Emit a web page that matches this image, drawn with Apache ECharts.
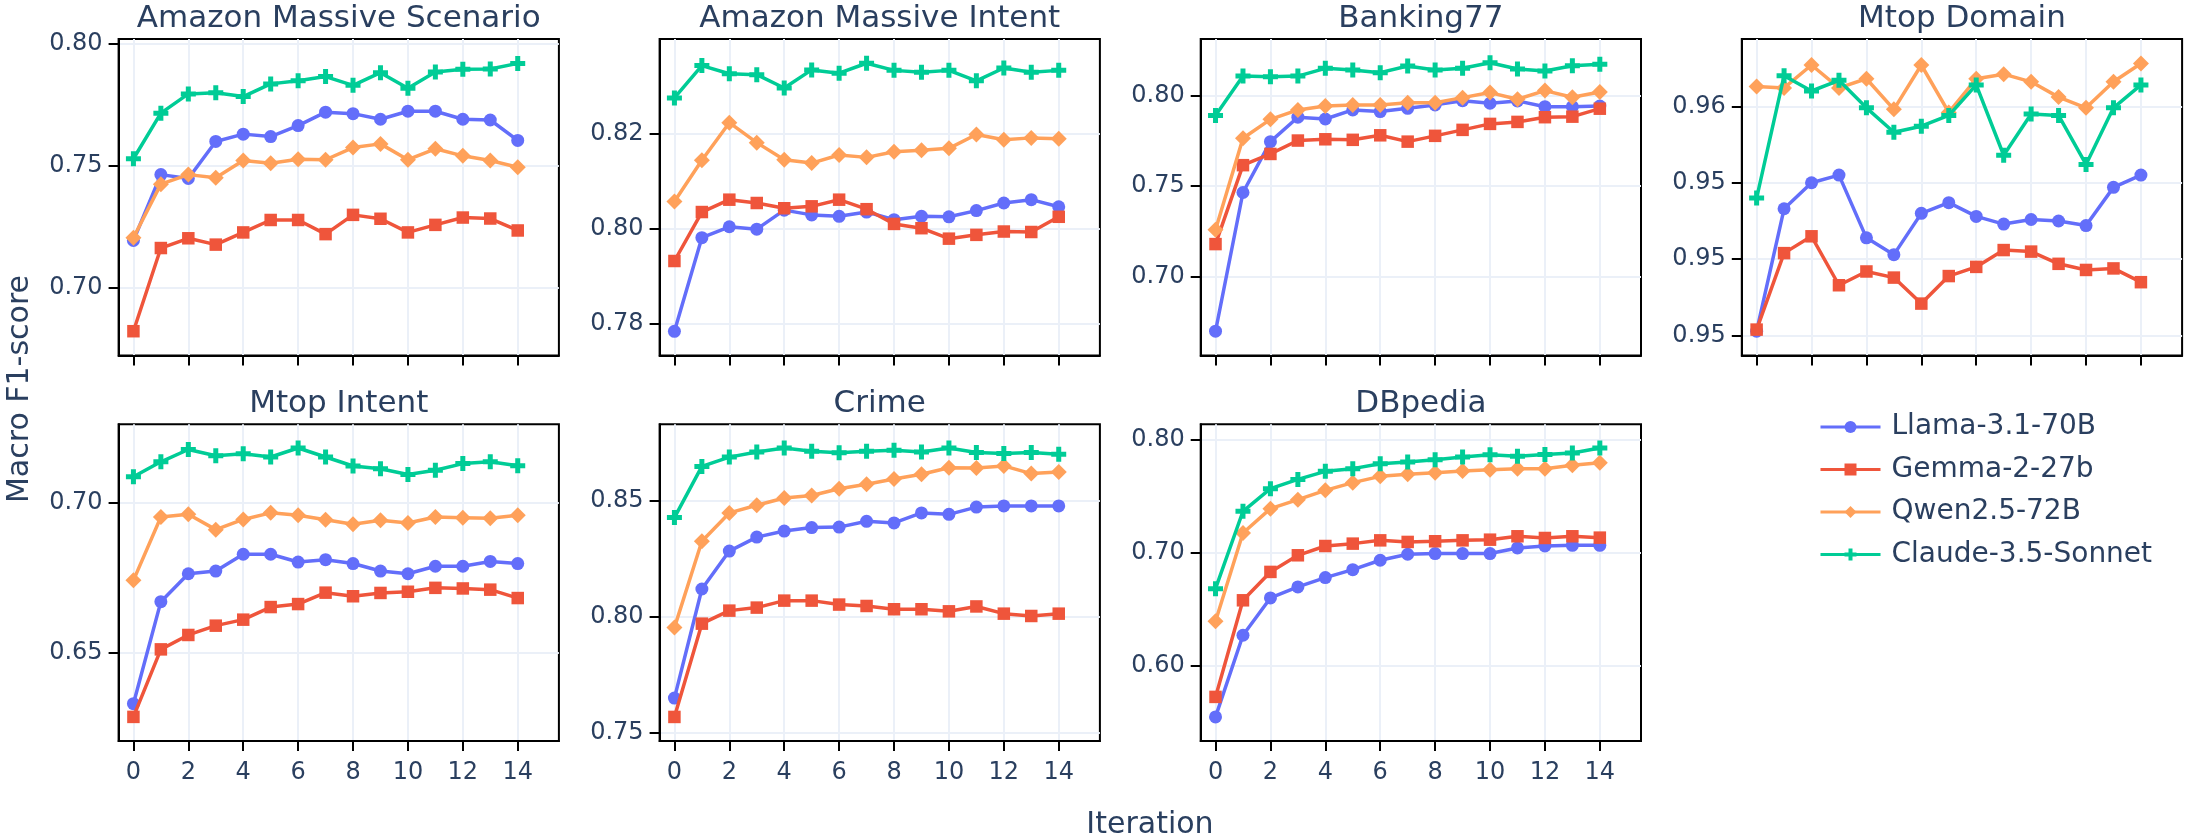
<!DOCTYPE html>
<html>
<head>
<meta charset="utf-8">
<script src="https://cdn.jsdelivr.net/npm/echarts@6/dist/echarts.min.js"></script>
<style>html,body{margin:0;padding:0;background:#fff}#c{width:2200px;height:840px}</style>
</head>
<body>
<div id="c"></div>
<script>
// ---------- data ----------
const models = ['Llama-3.1-70B', 'Gemma-2-27b', 'Qwen2.5-72B', 'Claude-3.5-Sonnet'];
const iterations = [0,1,2,3,4,5,6,7,8,9,10,11,12,13,14];
const datasetTitles = ['Amazon Massive Scenario','Amazon Massive Intent','Banking77','Mtop Domain','Mtop Intent','Crime','DBpedia'];
const xTicks = [0,2,4,6,8,10,12,14];

const amsLlama  = [0.7192,0.7462,0.7446,0.7598,0.7628,0.7618,0.7663,0.7718,0.7712,0.7689,0.7722,0.7722,0.7689,0.7686,0.7602];
const amsGemma  = [0.6820,0.7161,0.7201,0.7175,0.7225,0.7276,0.7276,0.7218,0.7297,0.7281,0.7225,0.7256,0.7286,0.7282,0.7233];
const amsQwen   = [0.7203,0.7423,0.7462,0.7449,0.7520,0.7509,0.7525,0.7523,0.7573,0.7588,0.7523,0.7568,0.7539,0.7520,0.7492];
const amsClaude = [0.7527,0.7714,0.7793,0.7798,0.7782,0.7834,0.7847,0.7864,0.7828,0.7880,0.7816,0.7883,0.7894,0.7895,0.7918];

const amiLlama  = [0.7784,0.7981,0.8004,0.7999,0.8039,0.8029,0.8026,0.8035,0.8019,0.8026,0.8025,0.8038,0.8054,0.8061,0.8046];
const amiGemma  = [0.7932,0.8035,0.8061,0.8054,0.8043,0.8047,0.8061,0.8041,0.8010,0.8001,0.7979,0.7987,0.7994,0.7993,0.8025];
const amiQwen   = [0.8057,0.8144,0.8223,0.8181,0.8145,0.8138,0.8155,0.8150,0.8162,0.8165,0.8169,0.8198,0.8187,0.8191,0.8189];
const amiClaude = [0.8275,0.8343,0.8326,0.8324,0.8296,0.8334,0.8327,0.8348,0.8333,0.8329,0.8333,0.8311,0.8338,0.8329,0.8333];

const bankLlama  = [0.6699,0.7465,0.7746,0.7881,0.7871,0.7921,0.7912,0.7930,0.7949,0.7972,0.7958,0.7971,0.7939,0.7939,0.7943];
const bankGemma  = [0.7180,0.7616,0.7678,0.7752,0.7759,0.7756,0.7781,0.7746,0.7778,0.7811,0.7844,0.7855,0.7881,0.7884,0.7928];
const bankQwen   = [0.7259,0.7765,0.7869,0.7921,0.7943,0.7949,0.7949,0.7961,0.7961,0.7989,0.8017,0.7980,0.8028,0.7991,0.8020];
const bankClaude = [0.7890,0.8108,0.8105,0.8108,0.8151,0.8142,0.8127,0.8164,0.8142,0.8151,0.8182,0.8147,0.8136,0.8165,0.8173];

const mdLlama  = [0.9453,0.9533,0.9550,0.9555,0.9514,0.9503,0.9530,0.9537,0.9528,0.9523,0.9526,0.9525,0.9522,0.9547,0.9555];
const mdGemma  = [0.9454,0.9504,0.9515,0.9483,0.9492,0.9488,0.9471,0.9489,0.9495,0.9506,0.9505,0.9497,0.9493,0.9494,0.9485];
const mdQwen   = [0.9613,0.9612,0.9627,0.9612,0.9618,0.9598,0.9627,0.9596,0.9618,0.9621,0.9616,0.9606,0.9599,0.9616,0.9628];
const mdClaude = [0.9540,0.9620,0.9610,0.9617,0.9599,0.9583,0.9587,0.9594,0.9614,0.9568,0.9595,0.9594,0.9562,0.9599,0.9614];

const miLlama  = [0.6330,0.6670,0.6763,0.6772,0.6828,0.6828,0.6802,0.6810,0.6797,0.6772,0.6763,0.6788,0.6788,0.6804,0.6797];
const miGemma  = [0.6286,0.6511,0.6559,0.6590,0.6610,0.6652,0.6662,0.6700,0.6688,0.6699,0.6703,0.6716,0.6714,0.6710,0.6682];
const miQwen   = [0.6741,0.6952,0.6961,0.6910,0.6944,0.6966,0.6958,0.6943,0.6928,0.6941,0.6932,0.6952,0.6950,0.6948,0.6958];
const miClaude = [0.7086,0.7136,0.7177,0.7156,0.7163,0.7152,0.7182,0.7152,0.7122,0.7113,0.7094,0.7108,0.7130,0.7136,0.7123];

const crimeLlama  = [0.7650,0.8119,0.8282,0.8342,0.8368,0.8383,0.8385,0.8410,0.8403,0.8446,0.8440,0.8471,0.8476,0.8476,0.8476];
const crimeGemma  = [0.7569,0.7970,0.8026,0.8039,0.8069,0.8069,0.8052,0.8046,0.8032,0.8032,0.8023,0.8044,0.8013,0.8003,0.8013];
const crimeQwen   = [0.7953,0.8324,0.8446,0.8479,0.8510,0.8521,0.8550,0.8569,0.8592,0.8612,0.8640,0.8639,0.8648,0.8615,0.8622];
const crimeClaude = [0.8426,0.8646,0.8686,0.8708,0.8725,0.8711,0.8705,0.8711,0.8715,0.8708,0.8725,0.8706,0.8701,0.8706,0.8698];

const dbLlama  = [0.5549,0.6271,0.6601,0.6698,0.6781,0.6851,0.6934,0.6987,0.6993,0.6993,0.6993,0.7043,0.7060,0.7066,0.7066];
const dbGemma  = [0.5726,0.6580,0.6831,0.6978,0.7060,0.7081,0.7110,0.7096,0.7102,0.7110,0.7116,0.7146,0.7131,0.7146,0.7134];
const dbQwen   = [0.6395,0.7175,0.7390,0.7470,0.7552,0.7620,0.7676,0.7694,0.7708,0.7723,0.7735,0.7744,0.7744,0.7773,0.7797];
const dbClaude = [0.6683,0.7367,0.7567,0.7649,0.7720,0.7744,0.7788,0.7803,0.7823,0.7847,0.7867,0.7853,0.7870,0.7882,0.7926];

// y ranges and tick values per panel
const yRanges = [[0.6720,0.8018],[0.7733,0.8399],[0.6564,0.8313],[0.9437,0.9644],[0.6206,0.7261],[0.7466,0.8827],[0.5337,0.8136]];
const yTicks = [[0.70,0.75,0.80],[0.78,0.80,0.82],[0.70,0.75,0.80],[0.945,0.95,0.955,0.96],[0.65,0.70],[0.75,0.80,0.85],[0.60,0.70,0.80]];
const mtopDomainTickLabels = ['0.95','0.95','0.95','0.96'];

// ---------- build ----------
const panelData = [
  [amsLlama, amsGemma, amsQwen, amsClaude],
  [amiLlama, amiGemma, amiQwen, amiClaude],
  [bankLlama, bankGemma, bankQwen, bankClaude],
  [mdLlama, mdGemma, mdQwen, mdClaude],
  [miLlama, miGemma, miQwen, miClaude],
  [crimeLlama, crimeGemma, crimeQwen, crimeClaude],
  [dbLlama, dbGemma, dbQwen, dbClaude]
];

const colors = ['#636EFA', '#EF553B', '#FFA15A', '#00CC96'];
const crossPath = 'path://M7.2,2.4H2.4V7.2H-2.4V2.4H-7.2V-2.4H-2.4V-7.2H2.4V-2.4H7.2Z';
const symbols = ['circle', 'rect', 'diamond', crossPath];
const symbolSizes = [13, 12.5, 16, 15];

const FONT = '"DejaVu Sans", Verdana, sans-serif';
const TXT = '#2a3f5f';
const colLeft = [118.6, 659.6, 1200.7, 1741.8];
const rowTop = [39, 424.3];
const pw = 440.3, ph = 316.6;

const grids = [], xAxes = [], yAxes = [], series = [], graphics = [];
for (let p = 0; p < 7; p++) {
  const r = p < 4 ? 0 : 1, c = p < 4 ? p : p - 4;
  grids.push({left: colLeft[c], top: rowTop[r], width: pw, height: ph, show: true,
    borderColor: '#000', borderWidth: 2, backgroundColor: '#fff', containLabel: false});
  xAxes.push({type: 'value', gridIndex: p, min: -0.54, max: 15.5,
    axisLine: {show: true, onZero: false, lineStyle: {color: '#000', width: 2}},
    axisTick: {show: true, length: 10, lineStyle: {color: '#000', width: 2}, customValues: xTicks},
    axisLabel: {show: r === 1, customValues: xTicks, margin: 20, fontSize: 24, fontFamily: FONT, color: TXT},
    splitLine: {show: true, lineStyle: {color: '#EBF0F8', width: 2}}
  });
  const ticks = yTicks[p];
  yAxes.push({type: 'value', gridIndex: p, min: yRanges[p][0], max: yRanges[p][1],
    axisLine: {show: true, onZero: false, lineStyle: {color: '#000', width: 2}},
    axisTick: {show: true, length: 10, lineStyle: {color: '#000', width: 2}, customValues: ticks},
    axisLabel: {show: true, customValues: ticks, margin: 16, fontSize: 24, fontFamily: FONT, color: TXT,
      formatter: (v) => {
        if (p === 3) {
          const k = ticks.findIndex(t => Math.abs(t - v) < 1e-9);
          return k >= 0 ? mtopDomainTickLabels[k] : '';
        }
        return Number(v).toFixed(2);
      }},
    splitLine: {show: true, lineStyle: {color: '#EBF0F8', width: 2}}
  });
  for (let m = 0; m < 4; m++) {
    series.push({
      name: models[m], type: 'line', xAxisIndex: p, yAxisIndex: p,
      data: iterations.map((it, i) => [it, panelData[p][m][i]]),
      symbol: symbols[m], symbolSize: symbolSizes[m], showSymbol: true,
      color: colors[m],
      lineStyle: {width: 3.5, color: colors[m]},
      itemStyle: {color: colors[m]},
      z: 2 + m
    });
  }
  graphics.push({type: 'text', x: colLeft[c] + pw / 2, y: rowTop[r] - 20,
    style: {text: datasetTitles[p], align: 'center', verticalAlign: 'middle', fontSize: 31, fontFamily: FONT, fill: TXT}});
}
graphics.push({type: 'text', x: 20.7, y: 389, rotation: Math.PI / 2,
  style: {text: 'Macro F1-score', align: 'center', verticalAlign: 'middle', fontSize: 30, fontFamily: FONT, fill: TXT}});
graphics.push({type: 'text', x: 1150, y: 825,
  style: {text: 'Iteration', align: 'center', verticalAlign: 'middle', fontSize: 30, fontFamily: FONT, fill: TXT}});

const chart = echarts.init(document.getElementById('c'), null, {renderer: 'canvas'});
chart.setOption({
  animation: false,
  backgroundColor: '#fff',
  grid: grids,
  xAxis: xAxes,
  yAxis: yAxes,
  series: series,
  legend: {
    data: models, orient: 'vertical', left: 1819, top: 412, padding: 0,
    itemWidth: 60, itemHeight: 15, itemGap: 12.5,
    lineStyle: {width: 3},
    textStyle: {fontSize: 28, fontFamily: FONT, color: TXT, lineHeight: 30, padding: [0, 0, 0, 6]}
  },
  graphic: graphics
});
</script>
</body>
</html>
